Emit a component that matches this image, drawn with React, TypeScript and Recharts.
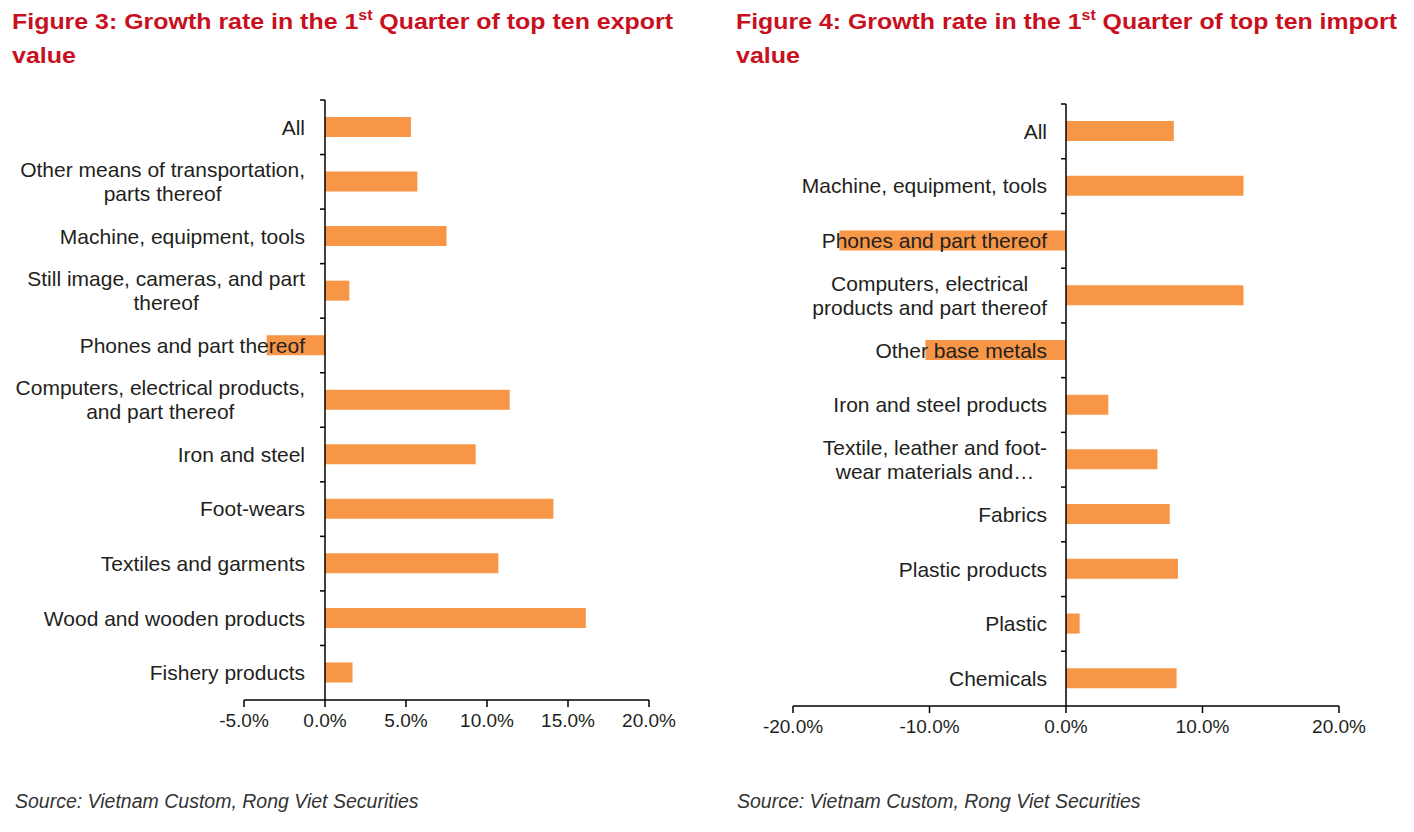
import React from "react";
import { BarChart, Bar, XAxis, YAxis, ReferenceLine } from "recharts";

// Figure 3 - exports, growth rate Q1 (%)
const exportCategories = [
  "All",
  "Other means of transportation,\nparts thereof",
  "Machine, equipment, tools",
  "Still image, cameras, and part\nthereof",
  "Phones and part thereof",
  "Computers, electrical products,\nand part thereof",
  "Iron and steel",
  "Foot-wears",
  "Textiles and garments",
  "Wood and wooden products",
  "Fishery products",
];
const exportGrowth = [5.3, 5.7, 7.5, 1.5, -3.6, 11.4, 9.3, 14.1, 10.7, 16.1, 1.7];
const exportTicks = [-5, 0, 5, 10, 15, 20];

// Figure 4 - imports, growth rate Q1 (%)
const importCategories = [
  "All",
  "Machine, equipment, tools",
  "Phones and part thereof",
  "Computers, electrical\nproducts and part thereof",
  "Other base metals",
  "Iron and steel products",
  "Textile, leather and foot-\nwear materials and…",
  "Fabrics",
  "Plastic products",
  "Plastic",
  "Chemicals",
];
const importGrowth = [7.9, 13.0, -16.6, 13.0, -10.3, 3.1, 6.7, 7.6, 8.2, 1.0, 8.1];
const importTicks = [-20, -10, 0, 10, 20];

const BAR_COLOR = "#F79646";
const TEXT_COLOR = "#231f20";
const TITLE_COLOR = "#c8101e";
const LABEL_FONT = "Liberation Sans";
const LABEL_SIZE = 21;
const LINE_HEIGHT = 24;

let ctx: CanvasRenderingContext2D | null = null;
function textWidth(s: string) {
  if (!ctx) ctx = document.createElement("canvas").getContext("2d");
  if (!ctx) return s.length * LABEL_SIZE * 0.5;
  ctx.font = `${LABEL_SIZE}px "${LABEL_FONT}"`;
  return ctx.measureText(s).width;
}

// multi-line category label, lines centred on each other, block right aligned
function CategoryTick({ y, payload, labelX, axisX, band }: any) {
  const lines = String(payload.value).split("\n");
  const maxW = Math.max(...lines.map(textWidth));
  const cx = labelX - maxW / 2;
  const y0 = y - ((lines.length - 1) * LINE_HEIGHT) / 2;
  return (
    <g>
      <line x1={axisX - 5} x2={axisX} y1={y - band / 2} y2={y - band / 2} stroke="#000" strokeWidth={1.5} />
      <text textAnchor="middle" fontFamily={LABEL_FONT} fontSize={LABEL_SIZE} fill={TEXT_COLOR}>
        {lines.map((l, i) => (
          <tspan key={i} x={cx} y={y0 + i * LINE_HEIGHT} dy="0.35em">
            {l}
          </tspan>
        ))}
      </text>
    </g>
  );
}

type PanelProps = {
  categories: string[];
  values: number[];
  ticks: number[];
  width: number;
  height: number;
  margin: { top: number; right: number; bottom: number; left: number };
  yAxisWidth: number;
  labelX: number;
};

function GrowthChart({ categories, values, ticks, width, height, margin, yAxisWidth, labelX }: PanelProps) {
  const data = categories.map((name, i) => ({ name, value: values[i] }));
  const xAxisHeight = 40;
  const plotW = width - margin.left - margin.right - yAxisWidth;
  const plotH = height - margin.top - margin.bottom - xAxisHeight;
  const lo = ticks[0];
  const hi = ticks[ticks.length - 1];
  const axisX = margin.left + yAxisWidth + ((0 - lo) / (hi - lo)) * plotW;
  const band = plotH / categories.length;

  return (
    <BarChart layout="vertical" width={width} height={height} data={data} margin={margin} barCategoryGap={0}>
      <XAxis
        type="number"
        domain={[lo, hi]}
        ticks={ticks}
        interval={0}
        height={xAxisHeight}
        tickFormatter={(v: number) => `${v.toFixed(1)}%`}
        axisLine={{ stroke: "#000", strokeWidth: 1.5 }}
        tickLine={{ stroke: "#000", strokeWidth: 1.5 }}
        tickSize={7}
        tickMargin={7}
        tick={{ fill: TEXT_COLOR, fontSize: 19, fontFamily: LABEL_FONT }}
      />
      <Bar dataKey="value" fill={BAR_COLOR} barSize={20} isAnimationActive={false} />
      <ReferenceLine x={0} stroke="#000" strokeWidth={1.5} />
      <YAxis
        type="category"
        dataKey="name"
        width={yAxisWidth}
        interval={0}
        axisLine={false}
        tickLine={false}
        tick={(p: any) => <CategoryTick {...p} labelX={labelX} axisX={axisX} band={band} />}
      />
    </BarChart>
  );
}

// bold condensed-looking title, squeezed to the reference line width
function Title({ left, word }: { left: number; word: string }) {
  return (
    <svg style={{ position: "absolute", left, top: 0 }} width={700} height={75}>
      <text
        x={0}
        y={29}
        fontFamily="Liberation Sans"
        fontWeight={700}
        fontSize={22}
        fill={TITLE_COLOR}
        textLength={661}
        lengthAdjust="spacingAndGlyphs"
      >
        Figure {word === "export" ? 3 : 4}: Growth rate in the 1
        <tspan fontSize={14} dy={-9}>st</tspan>
        <tspan dy={9}> Quarter of top ten {word}</tspan>
      </text>
      <text x={0} y={63} fontFamily="Liberation Sans" fontWeight={700} fontSize={22} fill={TITLE_COLOR} textLength={64} lengthAdjust="spacingAndGlyphs">
        value
      </text>
    </svg>
  );
}

const sourceStyle: React.CSSProperties = {
  position: "absolute",
  fontFamily: '"Liberation Sans", sans-serif',
  fontStyle: "italic",
  fontSize: 19.5,
  color: "#333",
  whiteSpace: "nowrap",
};

export default function App() {
  return (
    <div style={{ position: "absolute", left: 0, top: 0, width: 1414, height: 832, background: "#fff" }}>
      <Title left={12} word="export" />
      <Title left={736} word="import" />

      <div style={{ position: "absolute", left: 0, top: 0 }}>
        <GrowthChart
          categories={exportCategories}
          values={exportGrowth}
          ticks={exportTicks}
          width={700}
          height={760}
          margin={{ top: 100, right: 51, bottom: 20, left: 0 }}
          yAxisWidth={244}
          labelX={305}
        />
      </div>
      <div style={{ position: "absolute", left: 710, top: 0 }}>
        <GrowthChart
          categories={importCategories}
          values={importGrowth}
          ticks={importTicks}
          width={700}
          height={766}
          margin={{ top: 104, right: 71, bottom: 20, left: 0 }}
          yAxisWidth={83}
          labelX={337}
        />
      </div>

      <div style={{ ...sourceStyle, left: 15, top: 790 }}>Source: Vietnam Custom, Rong Viet Securities</div>
      <div style={{ ...sourceStyle, left: 737, top: 790 }}>Source: Vietnam Custom, Rong Viet Securities</div>
    </div>
  );
}
